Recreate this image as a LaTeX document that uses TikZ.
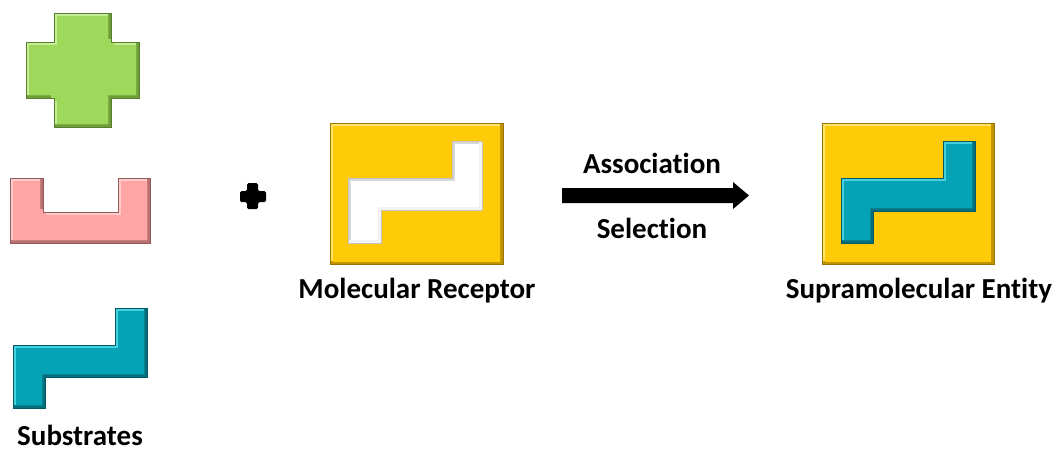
\documentclass[tikz,border=0pt]{standalone}
\usepackage{fontspec}
\setmainfont{Carlito}[Ligatures={NoCommon}]
\definecolor{gmain}{HTML}{9ED95C}
\definecolor{glight}{HTML}{C6EC98}
\definecolor{gdark}{HTML}{6E9E38}
\definecolor{pmain}{HTML}{FFA5A5}
\definecolor{plight}{HTML}{FFCBCB}
\definecolor{pdark}{HTML}{B87070}
\definecolor{tmain}{HTML}{06A2B5}
\definecolor{tlight}{HTML}{45D0DE}
\definecolor{tdark}{HTML}{04707D}
\definecolor{ymain}{HTML}{FFCA08}
\definecolor{ylight}{HTML}{FFE36A}
\definecolor{ydark}{HTML}{C09300}
\definecolor{cavl}{HTML}{D8D8D8}
\definecolor{cavm}{HTML}{FFFFFF}
\definecolor{cavd}{HTML}{F4F4F4}
\newcommand{\bevelshape}[5]{%
  \begin{scope}
    \clip #1;
    \fill[#4] #1;
    \begin{scope}[shift={(-#5,-#5)}]
      \fill[#2] #1;
      \clip #1;
      \begin{scope}[shift={(2*#5,2*#5)}]
        \fill[#3] #1;
      \end{scope}
    \end{scope}
  \end{scope}
  \draw[#4!80!black, line width=0.7pt] #1;
}
\tikzset{lbl/.style={font=\bfseries\fontsize{29}{34}\selectfont, text=black, inner sep=0pt, anchor=base}}
\begin{document}
\begin{tikzpicture}[x=1pt,y=-1pt]
\useasboundingbox (0,0) rectangle (1056,451);
% green cross
\bevelshape{(54,13) -- (111,13) -- (111,42) -- (139,42) -- (139,98) -- (111,98) -- (111,127) -- (54,127) -- (54,98) -- (26,98) -- (26,42) -- (54,42) -- cycle}{glight}{gmain}{gdark}{3}
% pink U
\bevelshape{(10,178) -- (43,178) -- (43,212) -- (118,212) -- (118,178) -- (150,178) -- (150,243) -- (10,243) -- cycle}{plight}{pmain}{pdark}{3}
% teal Z
\bevelshape{(115,308) -- (147,308) -- (147,377) -- (45,377) -- (45,408) -- (13,408) -- (13,345) -- (115,345) -- cycle}{tlight}{tmain}{tdark}{3}
\node[lbl] (sub) at (80,445) {Substrates};
% plus
\fill[black, rounded corners=1.5pt] (247,183) -- (258,183) -- (258,191) -- (266,191) -- (266,202) -- (258,202) -- (258,209) -- (247,209) -- (247,202) -- (240,202) -- (240,191) -- (247,191) -- cycle;
\node (plus) at (253,196) {};
% receptor
\bevelshape{(330,123) -- (503,123) -- (503,264) -- (330,264) -- cycle}{ylight}{ymain}{ydark}{3}
\bevelshape{(452,141) -- (482,141) -- (482,210) -- (381,210) -- (381,243) -- (348,243) -- (348,178) -- (452,178) -- cycle}{cavl}{cavm}{cavd}{3}
\node[lbl] (rec) at (417,298) {Molecular Receptor};
% arrow
\coordinate (a1) at (562,195.5);
\coordinate (a2) at (749,195.5);
\fill[black] (a1) ++(0,-7.5) -- (733,188) -- (733,182) -- (a2) -- (733,209) -- (733,203) -- (562,203) -- cycle;
\node[lbl] (assoc) at (652,173) {Association};
\node[lbl] (sel) at (652,238) {Selection};
% supramolecular entity
\bevelshape{(822,123) -- (994,123) -- (994,264) -- (822,264) -- cycle}{ylight}{ymain}{ydark}{3}
\bevelshape{(943,141) -- (975,141) -- (975,211) -- (873,211) -- (873,243) -- (841,243) -- (841,178) -- (943,178) -- cycle}{tlight}{tmain}{tdark}{3}
\node[lbl] (ent) at (919,298) {Supramolecular Entity};
\end{tikzpicture}
\end{document}
